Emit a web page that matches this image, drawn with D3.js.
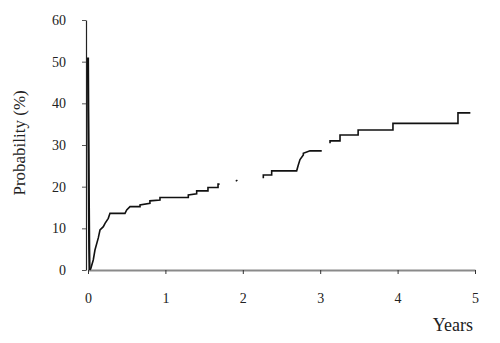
<!DOCTYPE html>
<html>
<head>
<meta charset="utf-8">
<script src="https://cdn.jsdelivr.net/npm/d3@7"></script>
<style>
  body { margin: 0; background: #fff; }
  svg text { font-family: "Liberation Serif", "DejaVu Serif", serif; }
</style>
</head>
<body>
<div id="chart"></div>
<script>
// chart values
var xTicks = [0, 1, 2, 3, 4, 5];
var yTicks = [0, 10, 20, 30, 40, 50, 60];

// early steep drop next to the y axis (years, %)
var dropYears = [0, 0.004, 0.008, 0.012, 0.016, 0.02];
var dropPct   = [51, 38, 28, 15, 5, 0];

// cumulative probability curve, split where the scan loses the line
var riseSegments = [
  {
    years: [0.02, 0.035, 0.068, 0.09, 0.133, 0.155, 0.198, 0.22, 0.262, 0.284, 0.478, 0.5, 0.543, 0.672, 0.672, 0.8, 0.8, 0.93, 0.93, 1.296, 1.296, 1.404, 1.404, 1.55, 1.55, 1.68, 1.68, 1.70],
    pct:   [0, 0.3, 2.4, 4.8, 7.7, 9.6, 10.4, 11.2, 12.4, 13.6, 13.6, 14.4, 15.2, 15.2, 15.6, 16, 16.6, 16.8, 17.4, 17.4, 18, 18.3, 19, 19, 19.8, 19.8, 20.6, 20.6]
  },
  { years: [1.91, 1.93], pct: [21.3, 21.6] },
  {
    years: [2.265, 2.265, 2.373, 2.373, 2.696, 2.717, 2.739, 2.782, 2.782, 2.868, 3.02],
    pct:   [22.0, 22.8, 22.8, 23.8, 23.8, 25.2, 26.5, 27.6, 28.0, 28.6, 28.6]
  },
  {
    years: [3.127, 3.127, 3.256, 3.256, 3.49, 3.49, 3.94, 3.94, 4.78, 4.78, 4.94],
    pct:   [30.4, 31.0, 31.0, 32.4, 32.4, 33.6, 33.6, 35.2, 35.2, 37.7, 37.7]
  }
];

var width = 500;
var height = 343;
var serif = "Liberation Serif, DejaVu Serif, serif";

var svg = d3.select("#chart").append("svg")
    .attr("width", width)
    .attr("height", height);

var x = d3.scaleLinear().domain([0, 5]).range([88, 475]);
var y = d3.scaleLinear().domain([0, 60]).range([270, 20]);

// x axis
var xAxis = svg.append("g")
    .attr("transform", "translate(0," + y(0) + ")")
    .attr("font-family", serif)
    .call(d3.axisBottom(x).tickValues(xTicks).tickFormat(d3.format("d"))
      .tickSize(4).tickSizeOuter(0).tickPadding(19));
xAxis.attr("font-family", serif).attr("font-size", 14);
xAxis.select(".domain").attr("stroke", "#8a8a8a").attr("stroke-width", 2);
xAxis.selectAll(".tick line").attr("stroke", "#333");
xAxis.selectAll(".tick text").attr("fill", "#222");

// y axis
var yAxis = svg.append("g")
    .attr("transform", "translate(86,0)")
    .call(d3.axisLeft(y).tickValues(yTicks).tickFormat(d3.format("d"))
      .tickSize(4).tickSizeOuter(0).tickPadding(16));
yAxis.attr("font-family", serif).attr("font-size", 14);
yAxis.select(".domain").attr("stroke", "#222").attr("stroke-width", 1.2);
yAxis.selectAll(".tick line").attr("stroke", "#555");
yAxis.selectAll(".tick text").attr("fill", "#222");

var line = d3.line()
    .x(function (d) { return x(d[0]); })
    .y(function (d) { return y(d[1]); });

// steep drop
svg.append("path")
    .datum(d3.zip(dropYears, dropPct))
    .attr("fill", "none")
    .attr("stroke", "#111")
    .attr("stroke-width", 2.2)
    .attr("d", line);

// rising curve pieces
riseSegments.forEach(function (seg) {
  svg.append("path")
      .datum(d3.zip(seg.years, seg.pct))
      .attr("fill", "none")
      .attr("stroke", "#111")
      .attr("stroke-width", 1.6)
      .attr("d", line);
});

// axis titles
svg.append("text")
    .attr("transform", "translate(25," + y(30.5) + ") rotate(-90)")
    .attr("text-anchor", "middle")
    .attr("font-family", serif)
    .attr("font-size", "17px")
    .attr("fill", "#222")
    .text("Probability (%)");

svg.append("text")
    .attr("x", 473)
    .attr("y", 331)
    .attr("text-anchor", "end")
    .attr("font-family", serif)
    .attr("font-size", "18px")
    .attr("fill", "#222")
    .text("Years");
</script>
</body>
</html>
